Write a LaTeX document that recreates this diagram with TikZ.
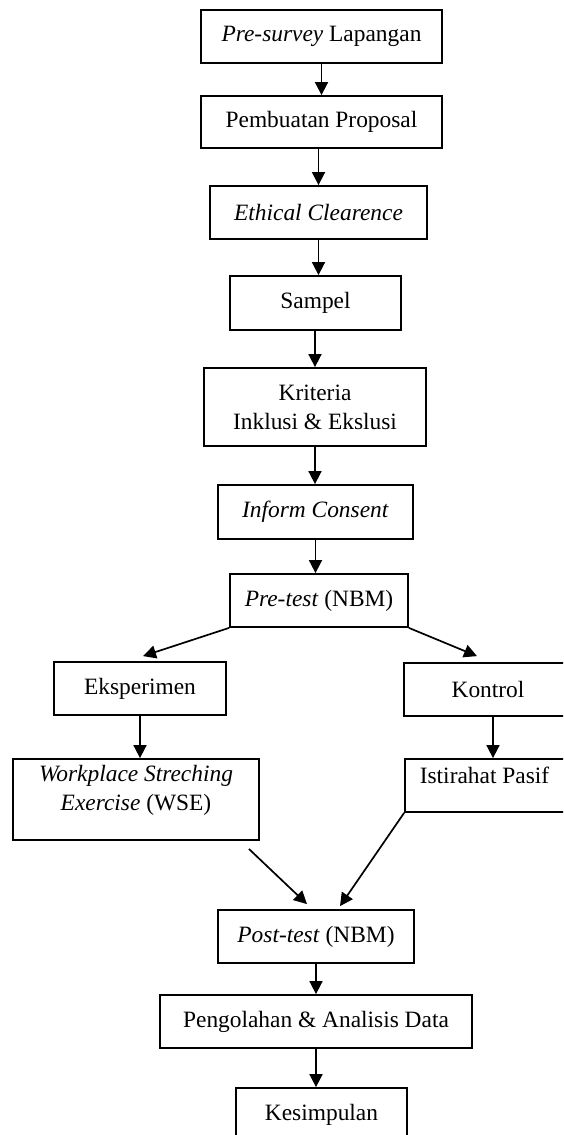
\documentclass[tikz,border=0pt]{standalone}
\usepackage{fontspec}
\setmainfont{Liberation Serif}
\usetikzlibrary{arrows.meta}

\begin{document}
\begin{tikzpicture}[x=0.5pt, y=-0.5pt,
        kotak/.style={draw, line width=0.9pt, inner sep=0pt, align=center, font=\fontsize{11.7}{14.5}\selectfont},
        teks/.style={inner sep=0pt, align=center, font=\fontsize{11.7}{14.5}\selectfont},
        panah/.style={-{Triangle[length=6.5pt,width=6.5pt]}, line width=0.85pt}]
        \useasboundingbox (0,0) rectangle (563,1135);
        \clip (0,0) rectangle (563,1135);
        \node[kotak, minimum width=120.5pt, minimum height=26.5pt] (presurvey) at (321.5,36.5) {\textit{Pre-survey} Lapangan};
        \node[kotak, minimum width=120.5pt, minimum height=26pt] (proposal) at (321.5,122) {Pembuatan Proposal};
        \node[kotak, minimum width=108.5pt, minimum height=26.5pt] (ethical) at (318.5,212.5) {\textit{Ethical Clearence}};
        \node[kotak, minimum width=85.5pt, minimum height=27pt] (sampel) at (315.5,303) {Sampel};
        \node[kotak, minimum width=111pt, minimum height=39pt] (kriteria) at (315,407) {Kriteria\\Inklusi \& Ekslusi};
        \node[kotak, minimum width=97.5pt, minimum height=27pt] (inform) at (315.5,512) {\textit{Inform Consent}};
        \node[kotak, minimum width=89pt, minimum height=26.5pt] (pretest) at (319,600.5) {\textit{Pre-test} (NBM)};
        \node[kotak, minimum width=86pt, minimum height=26.5pt] (eksperimen) at (140,688.5) {Eksperimen};
        \node[kotak, minimum width=84pt, minimum height=26.5pt] (kontrol) at (488,689.5) {Kontrol};
        \node[kotak, minimum width=123pt, minimum height=40.5pt] (wse) at (136,799.5) {};
        \node[teks] (wseteks) at (136,790.5) {\textit{Workplace Streching}\\\textit{Exercise} (WSE)};
        \node[kotak, minimum width=81.5pt, minimum height=26.5pt] (istirahat) at (486.5,785.5) {};
        \node[teks] (istirahatteks) at (484.5,775) {Istirahat Pasif};
        \node[kotak, minimum width=98pt, minimum height=26.5pt] (posttest) at (316,936.5) {\textit{Post-test} (NBM)};
        \node[kotak, minimum width=156pt, minimum height=26.5pt] (pengolahan) at (316,1021.5) {Pengolahan \& Analisis Data};
        \node[kotak, minimum width=85.5pt, minimum height=26.5pt] (kesimpulan) at (321.5,1114.5) {Kesimpulan};
        \draw[panah] (presurvey.south) -- (proposal.north);
        \draw[panah] (ethical.north |- proposal.south) -- (ethical.north);
        \draw[panah] (ethical.south) -- (ethical.south |- sampel.north);
        \draw[panah] (kriteria.north |- sampel.south) -- (kriteria.north);
        \draw[panah] (kriteria.south) -- (kriteria.south |- inform.north);
        \draw[panah] (inform.south) -- (inform.south |- pretest.north);
        \draw[panah] (pretest.south west) -- ([xshift=1.5pt,yshift=2.5pt]eksperimen.north);
        \draw[panah] (pretest.south east) -- ([xshift=-5.5pt,yshift=3pt]kontrol.north);
        \draw[panah] (eksperimen.south) -- (eksperimen.south |- wse.north);
        \draw[panah] ([xshift=2.5pt]kontrol.south) -- ([xshift=2.5pt]kontrol.south |- istirahat.north);
        \draw[panah] ([xshift=-5.5pt,yshift=-4pt]wse.south east) -- ([xshift=-4.5pt,yshift=2.5pt]posttest.north);
        \draw[panah] (istirahat.south west) -- ([xshift=12pt,yshift=1.5pt]posttest.north);
        \draw[panah] (posttest.south) -- (posttest.south |- pengolahan.north);
        \draw[panah] (pengolahan.south) -- (pengolahan.south |- kesimpulan.north);
    \end{tikzpicture}
\end{document}
